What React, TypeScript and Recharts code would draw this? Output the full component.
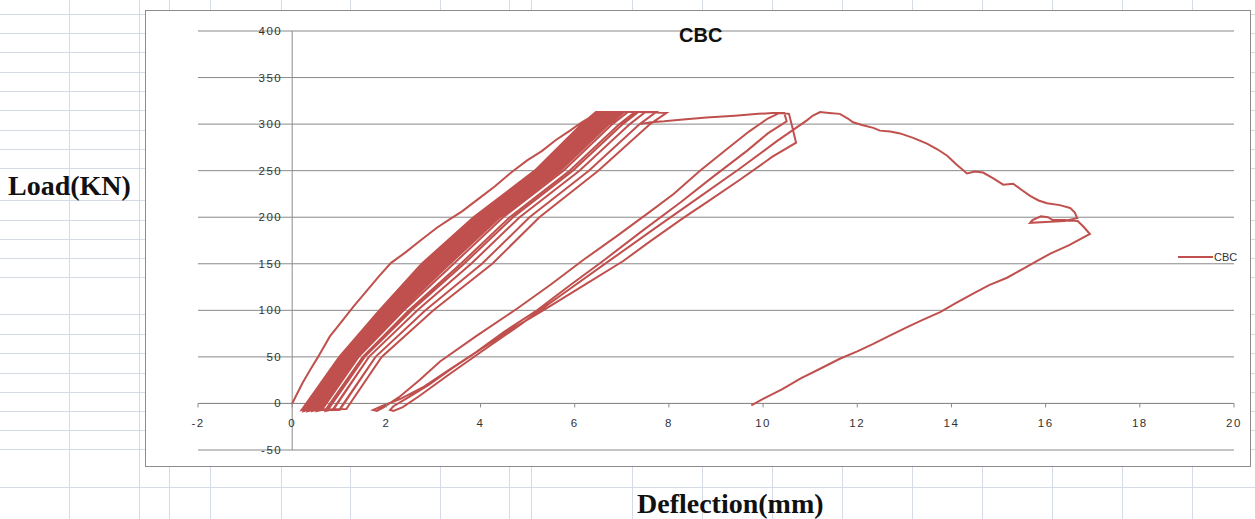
import { LineChart, Line, XAxis, YAxis, CartesianGrid, ReferenceLine } from 'recharts'

type Pt = [number, number]

const xTicks = [-2, 0, 2, 4, 6, 8, 10, 12, 14, 16, 18, 20]
const yTicks = [-50, 0, 50, 100, 150, 200, 250, 300, 350, 400]

// first loading from the origin
const envelope: Pt[] = [
  [0, 0], [0.08, 8], [0.22, 22], [0.38, 36], [0.55, 50], [0.8, 72], [1.05, 88], [1.3, 104],
  [1.6, 122], [1.85, 137], [2.1, 151], [2.4, 162], [2.75, 176], [3.08, 189], [3.35, 198],
  [3.6, 206], [3.99, 221], [4.3, 233], [4.65, 248], [4.99, 261], [5.3, 271], [5.6, 283],
  [5.9, 293], [6.15, 302], [6.39, 309], [6.52, 313],
]

// repeated unload / reload cycles (dense band)
const bandLoops: Pt[][] = [
  [[6.6, 313], [6.3, 300], [5.29, 250], [3.99, 200], [2.9, 150], [1.97, 100], [1.09, 50], [0.3, -6]],
  [[0.2, -7], [1.0, 50], [1.85, 100], [2.75, 150], [3.85, 200], [5.15, 250], [6.15, 300], [6.45, 313]],
  [[6.75, 313], [6.44, 300], [5.42, 250], [4.13, 200], [3.05, 150], [2.08, 100], [1.18, 50], [0.39, -6]],
  [[0.25, -8], [1.05, 50], [1.91, 100], [2.83, 150], [3.92, 200], [5.22, 250], [6.22, 300], [6.53, 313]],
  [[6.83, 313], [6.51, 300], [5.49, 250], [4.2, 200], [3.13, 150], [2.14, 100], [1.23, 50], [0.44, -6]],
  [[0.3, -7], [1.09, 50], [1.97, 100], [2.9, 150], [3.99, 200], [5.29, 250], [6.3, 300], [6.6, 313]],
  [[6.9, 313], [6.59, 300], [5.56, 250], [4.27, 200], [3.2, 150], [2.2, 100], [1.27, 50], [0.49, -6]],
  [[0.34, -8], [1.14, 50], [2.02, 100], [2.98, 150], [4.06, 200], [5.35, 250], [6.37, 300], [6.68, 313]],
  [[6.98, 313], [6.66, 300], [5.62, 250], [4.34, 200], [3.28, 150], [2.25, 100], [1.32, 50], [0.53, -6]],
  [[0.39, -7], [1.18, 50], [2.08, 100], [3.05, 150], [4.13, 200], [5.42, 250], [6.44, 300], [6.75, 313]],
  [[7.05, 313], [6.73, 300], [5.69, 250], [4.41, 200], [3.35, 150], [2.31, 100], [1.36, 50], [0.58, -6]],
  [[0.44, -8], [1.23, 50], [2.14, 100], [3.13, 150], [4.2, 200], [5.49, 250], [6.51, 300], [6.83, 313]],
  [[7.13, 313], [6.8, 300], [5.76, 250], [4.48, 200], [3.43, 150], [2.37, 100], [1.41, 50], [0.63, -6]],
  [[0.49, -7], [1.27, 50], [2.2, 100], [3.2, 150], [4.27, 200], [5.56, 250], [6.59, 300], [6.9, 313]],
  [[7.28, 313], [6.95, 300], [5.89, 250], [4.62, 200], [3.58, 150], [2.48, 100], [1.5, 50], [0.72, -6]],
  [[0.53, -8], [1.32, 50], [2.25, 100], [3.28, 150], [4.34, 200], [5.62, 250], [6.66, 300], [6.98, 313]],
  [[7.35, 313], [7.02, 300], [5.96, 250], [4.69, 200], [3.65, 150], [2.54, 100], [1.54, 50], [0.77, -6]],
  [[0.63, -7], [1.41, 50], [2.37, 100], [3.43, 150], [4.48, 200], [5.76, 250], [6.8, 300], [7.13, 313]],
  [[7.5, 313], [7.17, 300], [6.1, 250], [4.83, 200], [3.8, 150], [2.66, 100], [1.63, 50], [0.87, -6]],
  [[0.72, -8], [1.5, 50], [2.48, 100], [3.58, 150], [4.62, 200], [5.89, 250], [6.95, 300], [7.28, 313]],
  [[7.73, 313], [7.38, 300], [6.3, 250], [5.04, 200], [4.03, 150], [2.83, 100], [1.77, 50], [1.01, -6]],
  [[0.87, -7], [1.63, 50], [2.66, 100], [3.8, 150], [4.83, 200], [6.1, 250], [7.17, 300], [7.5, 313]],
  [[7.95, 312], [7.6, 300], [6.5, 250], [5.25, 200], [4.25, 150], [3.0, 100], [1.9, 50], [1.15, -6]],
  [[0.22, -7], [1.02, 50], [1.87, 100], [2.78, 150], [3.88, 200], [5.18, 250], [6.18, 300], [6.48, 313]],
  [[6.78, 313], [6.47, 300], [5.45, 250], [4.16, 200], [3.08, 150], [2.1, 100], [1.2, 50], [0.41, -6]],
  [[0.27, -8], [1.06, 50], [1.93, 100], [2.86, 150], [3.95, 200], [5.24, 250], [6.25, 300], [6.56, 313]],
  [[6.86, 313], [6.54, 300], [5.51, 250], [4.23, 200], [3.16, 150], [2.16, 100], [1.24, 50], [0.46, -6]],
  [[0.31, -7], [1.11, 50], [1.99, 100], [2.93, 150], [4.02, 200], [5.31, 250], [6.32, 300], [6.63, 313]],
  [[6.93, 313], [6.61, 300], [5.58, 250], [4.3, 200], [3.23, 150], [2.22, 100], [1.29, 50], [0.5, -6]],
  [[0.36, -8], [1.15, 50], [2.05, 100], [3.01, 150], [4.09, 200], [5.38, 250], [6.4, 300], [6.71, 313]],
  [[7.01, 313], [6.69, 300], [5.65, 250], [4.37, 200], [3.31, 150], [2.28, 100], [1.33, 50], [0.55, -6]],
  [[1.01, -7], [1.77, 50], [2.83, 100], [4.03, 150], [5.04, 200], [6.3, 250], [7.38, 300], [7.62, 302]],
]

const plateau: Pt[] = [
  [7.9, 303], [8.3, 305], [8.8, 307], [9.4, 309], [9.9, 311], [10.2, 312], [10.45, 312],
]

const unloadB: Pt[] = [
  [10.5, 303], [10.1, 290], [9.65, 271], [8.9, 242], [8.25, 216], [7.4, 184], [6.6, 153],
  [5.9, 127], [5.2, 100], [4.5, 77], [3.9, 55], [3.3, 35], [2.8, 18], [2.3, 5], [1.9, -3], [1.72, -7],
]

const reloadA: Pt[] = [
  [1.8, -8], [1.95, -4], [2.3, 8], [2.7, 25], [3.14, 45], [3.9, 72], [4.78, 102], [5.5, 128],
  [6.18, 154], [6.9, 180], [7.6, 206], [8.1, 225], [8.66, 250], [9.2, 272], [9.7, 292],
  [10.1, 306], [10.35, 312], [10.55, 311], [10.62, 297], [10.7, 280],
]

const unloadC: Pt[] = [
  [10.2, 265], [9.5, 240], [8.8, 216], [8.3, 199], [7.6, 174], [7.03, 153], [6.2, 127],
  [5.33, 100], [4.6, 78], [4.0, 58], [3.4, 38], [2.9, 20], [2.45, 6], [2.15, -3], [2.08, -7],
]

const reloadD: Pt[] = [
  [2.15, -8], [2.35, -4], [2.7, 8], [3.3, 30], [4.0, 55], [4.8, 83], [5.7, 116], [6.7, 152],
  [7.7, 188], [8.6, 220], [9.5, 252], [10.3, 282], [10.7, 296], [10.93, 304],
]

const softening: Pt[] = [
  [11.05, 309], [11.21, 313], [11.4, 312], [11.63, 311], [11.8, 306], [11.91, 302], [12.1, 299],
  [12.34, 296], [12.48, 293], [12.7, 292], [12.91, 290], [13.2, 285], [13.48, 279], [13.7, 273],
  [13.91, 266], [14.1, 257], [14.33, 247], [14.5, 249], [14.67, 248], [14.88, 242], [15.1, 235],
  [15.31, 236], [15.5, 229], [15.67, 223], [15.85, 218], [16.03, 215], [16.3, 213], [16.52, 210],
  [16.62, 205], [16.67, 199],
  [16.4, 196], [16.0, 195], [15.67, 194], [15.72, 197], [15.9, 201], [16.05, 200], [16.15, 197],
  [16.4, 197], [16.68, 196], [16.8, 190], [16.94, 182],
]

const finalUnload: Pt[] = [
  [16.5, 170], [16.1, 161], [15.82, 153], [15.5, 144], [15.18, 135], [14.8, 127], [14.46, 118],
  [14.1, 108], [13.76, 98], [13.4, 90], [13.06, 82], [12.7, 73], [12.34, 64], [12.0, 56],
  [11.63, 48], [11.2, 37], [10.8, 27], [10.4, 15], [10.0, 5], [9.75, -2],
]

const points = [
  ...envelope,
  ...bandLoops.flat(),
  ...plateau,
  ...unloadB,
  ...reloadA,
  ...unloadC,
  ...reloadD,
  ...softening,
  ...finalUnload,
].map(([x, y]) => ({ x, y }))

// spreadsheet background
const sheetRows = [14, 33, 52, 72, 91, 110, 130, 149, 168, 200, 220, 239, 258, 277, 314, 334, 353, 373, 392, 411, 430, 449, 487]
const sheetCols = [69, 139, 169, 210, 281, 350, 440, 509, 531, 632, 702, 772, 842, 912, 982, 1052, 1122, 1192]

const RED = '#C0504D'
const GRID = '#8a8a8a'
const BOX = { left: 145, top: 10, width: 1106, height: 457 }
const MARGIN = { top: 21, right: 17, bottom: 16, left: 52 }
const PLOT_W = 1036
const PLOT_H = 419
const ZERO_FROM_BOTTOM = (PLOT_H * 50) / 450
const ZERO_FROM_LEFT = (PLOT_W * 2) / 22

const tickFont = { fontFamily: 'Liberation Sans, Arial, sans-serif', fontSize: 11.5, letterSpacing: 1.5, fill: '#333' }

const renderXTick = (props: any) => {
  const { x, y, payload } = props
  const zy = y - ZERO_FROM_BOTTOM
  return (
    <g key={'xt' + payload.value}>
      <line x1={x} x2={x} y1={zy} y2={zy + 4} stroke={GRID} />
      <text x={x} y={zy + 20} dy="0.35em" textAnchor="middle" {...tickFont}>{payload.value}</text>
    </g>
  )
}

const renderYTick = (props: any) => {
  const { x, y, payload } = props
  return (
    <text key={'yt' + payload.value} x={x + ZERO_FROM_LEFT - 10} y={y} dy="0.35em" textAnchor="end" {...tickFont}>
      {payload.value}
    </text>
  )
}

export default function App() {
  return (
    <div style={{ position: 'absolute', left: 0, top: 0, width: 1255, height: 519, background: '#fff', overflow: 'hidden' }}>
      <svg width={1255} height={519} style={{ position: 'absolute', left: 0, top: 0 }}>
        {sheetRows.map(r => <line key={'r' + r} x1={0} x2={1255} y1={r + 0.5} y2={r + 0.5} stroke="#d4dbe6" />)}
        {sheetCols.map(c => <line key={'c' + c} x1={c + 0.5} x2={c + 0.5} y1={0} y2={519} stroke="#d4dbe6" />)}
      </svg>
      <div
        style={{
          position: 'absolute', left: BOX.left, top: BOX.top, width: BOX.width, height: BOX.height,
          background: '#fff', border: '1px solid #8c8c8c', boxSizing: 'border-box',
        }}
      />
      <div style={{ position: 'absolute', left: BOX.left, top: BOX.top }}>
        <LineChart width={BOX.width} height={BOX.height} data={points} margin={MARGIN}>
          <CartesianGrid vertical={false} stroke={GRID} />
          <XAxis
            dataKey="x" type="number" domain={[-2, 20]} ticks={xTicks} allowDataOverflow
            height={1} axisLine={false} tickLine={false} tickSize={0} tickMargin={0} tick={renderXTick} interval={0}
          />
          <YAxis
            type="number" domain={[-50, 400]} ticks={yTicks} allowDataOverflow
            width={1} axisLine={false} tickLine={false} tickSize={0} tickMargin={0} tick={renderYTick} interval={0}
          />
          <ReferenceLine x={0} stroke={GRID} />
          <ReferenceLine y={0} stroke={GRID} />
          <Line type="linear" dataKey="y" stroke={RED} strokeWidth={2} dot={false} isAnimationActive={false} />
        </LineChart>
      </div>
      <div style={{ position: 'absolute', left: 679, top: 24, fontFamily: 'Liberation Sans, Arial, sans-serif', fontWeight: 'bold', fontSize: 20, color: '#111' }}>
        CBC
      </div>
      <div style={{ position: 'absolute', left: 1178, top: 251, display: 'flex', alignItems: 'center', fontFamily: 'Liberation Sans, Arial, sans-serif', fontSize: 11, color: '#333' }}>
        <span style={{ display: 'inline-block', width: 35, height: 2, background: RED, marginRight: 1 }} />
        CBC
      </div>
      <div style={{ position: 'absolute', left: 8, top: 170, fontFamily: 'Liberation Serif, Times New Roman, serif', fontWeight: 'bold', fontSize: 28, color: '#111' }}>
        Load(KN)
      </div>
      <div style={{ position: 'absolute', left: 637, top: 488, fontFamily: 'Liberation Serif, Times New Roman, serif', fontWeight: 'bold', fontSize: 28, color: '#111' }}>
        Deflection(mm)
      </div>
    </div>
  )
}
